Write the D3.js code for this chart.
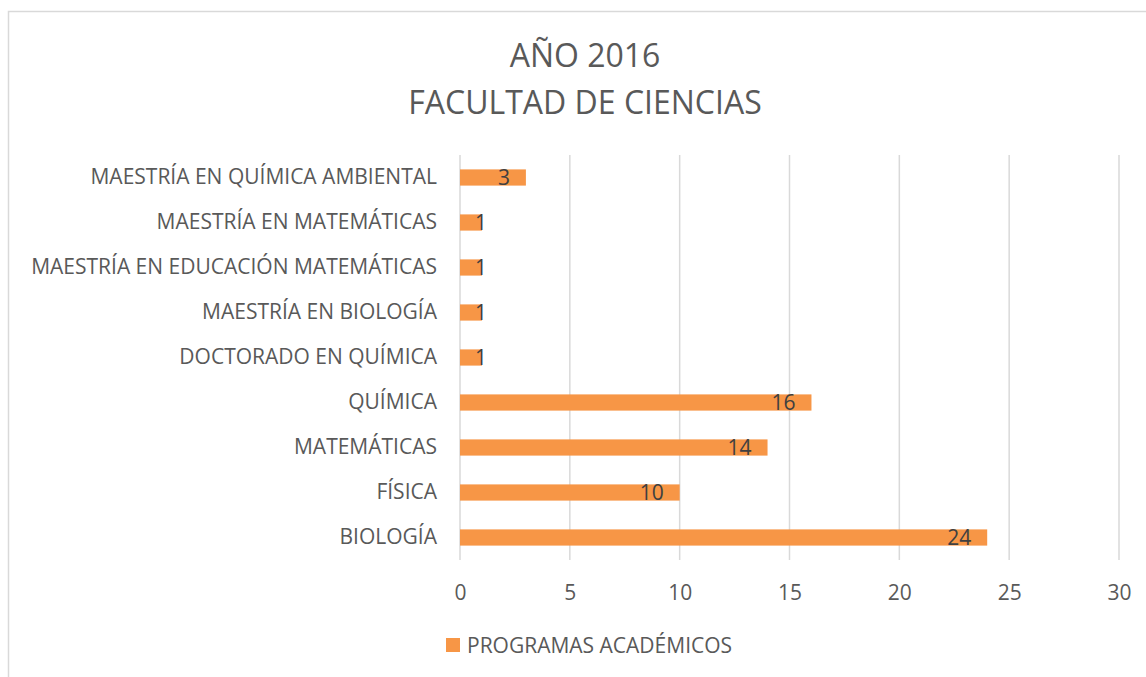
<!DOCTYPE html>
<html>
<head>
<meta charset="utf-8">
<script src="https://cdn.jsdelivr.net/npm/d3@7"></script>
<style>
  body { margin: 0; background: #fff; }
  text { font-family: "Open Sans", "Noto Sans", sans-serif; }
</style>
</head>
<body>
<div id="app"></div>
<script>
let programs = [
  "BIOLOGÍA",
  "FÍSICA",
  "MATEMÁTICAS",
  "QUÍMICA",
  "DOCTORADO EN QUÍMICA",
  "MAESTRÍA EN BIOLOGÍA",
  "MAESTRÍA EN EDUCACIÓN MATEMÁTICAS",
  "MAESTRÍA EN MATEMÁTICAS",
  "MAESTRÍA EN QUÍMICA AMBIENTAL"
];
let counts = [24, 10, 14, 16, 1, 1, 1, 1, 3];
let ticks = [0, 5, 10, 15, 20, 25, 30];
let titleLines = ["AÑO 2016", "FACULTAD DE CIENCIAS"];
let seriesName = "PROGRAMAS ACADÉMICOS";

let width = 1146;
let height = 677;
let fontSize = 21;

let svg = d3.select("#app")
  .append("svg")
  .attr("width", width)
  .attr("height", height);

// chart frame
svg.append("rect")
  .attr("x", 8.5).attr("y", 11.5)
  .attr("width", width + 10).attr("height", height + 10)
  .attr("fill", "white")
  .attr("stroke", "#d9d9d9")
  .attr("stroke-width", 1.5);

svg.selectAll(".title")
  .data(titleLines)
  .join("text")
  .attr("class", "title")
  .attr("x", 585)
  .attr("y", (d, i) => 67 + i * 47)
  .attr("text-anchor", "middle")
  .attr("fill", "#595959")
  .attr("font-size", 32)
  .text(d => d);

const x = d3.scaleLinear().domain([0, 30]).range([460, 1119]);
const y = d3.scaleBand()
  .domain(programs.slice().reverse())
  .range([155, 560])
  .paddingInner(0.64)
  .paddingOuter(0.32);

// grid
svg.append("g")
  .selectAll("line")
  .data(ticks)
  .join("line")
  .attr("x1", d => x(d)).attr("x2", d => x(d))
  .attr("y1", 155).attr("y2", 560)
  .attr("stroke", "#d9d9d9")
  .attr("stroke-width", 1.5);

// x axis labels
let xAxis = svg.append("g")
  .attr("transform", "translate(0,560)")
  .call(d3.axisBottom(x).tickValues(ticks).tickSize(0).tickPadding(25));
xAxis.select(".domain").remove();
xAxis.selectAll("text")
  .attr("fill", "#595959")
  .attr("font-size", fontSize)
  .style("font-family", "'Open Sans', sans-serif");

// y axis labels
let yAxis = svg.append("g")
  .attr("transform", "translate(460,0)")
  .call(d3.axisLeft(y).tickSize(0).tickPadding(23));
yAxis.select(".domain").remove();
yAxis.selectAll("text")
  .attr("fill", "#595959")
  .attr("font-size", fontSize)
  .style("font-family", "'Open Sans', sans-serif");

// bars
svg.append("g")
  .selectAll("rect")
  .data(programs)
  .join("rect")
  .attr("x", x(0))
  .attr("y", d => y(d))
  .attr("width", (d, i) => x(counts[i]) - x(0))
  .attr("height", y.bandwidth())
  .attr("fill", "#f79646");

// data labels (inside end, pushed right when the bar is too short)
svg.append("g")
  .selectAll("text")
  .data(programs)
  .join("text")
  .attr("x", (d, i) => counts[i] < 2 ? x(0) + 15 : x(counts[i]) - 16)
  .attr("y", d => y(d) + y.bandwidth() / 2)
  .attr("dy", "0.36em")
  .attr("text-anchor", (d, i) => counts[i] < 2 ? "start" : "end")
  .attr("fill", "#404040")
  .attr("font-size", fontSize)
  .text((d, i) => counts[i]);

// legend
let legend = svg.append("g").attr("transform", "translate(446,638)");
legend.append("rect")
  .attr("width", 14).attr("height", 14)
  .attr("fill", "#f79646");
legend.append("text")
  .attr("x", 21).attr("y", 7)
  .attr("dy", "0.36em")
  .attr("fill", "#595959")
  .attr("font-size", fontSize)
  .text(seriesName);
</script>
</body>
</html>
